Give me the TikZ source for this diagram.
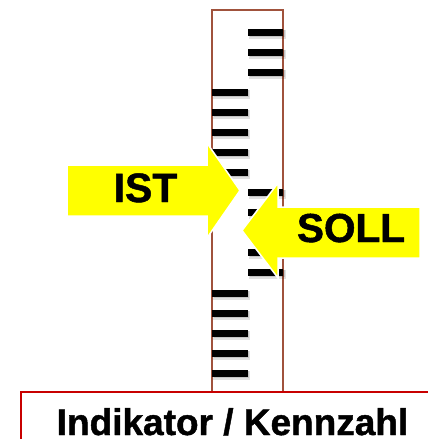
\documentclass[tikz,border=0pt]{standalone}
\usepackage{fontspec}
\setmainfont{Liberation Sans}[BoldFont={Liberation Sans Bold},BoldFeatures={FakeBold=1.2}]
\begin{document}
\begin{tikzpicture}[x=1pt,y=-1pt,
  rulerline/.style={draw={rgb,255:red,160;green,82;blue,60},line width=2pt},
  framebox/.style={draw={rgb,255:red,200;green,0;blue,0},line width=2pt},
  tickmark/.style={fill=black},
  tickshadow/.style={fill=black,opacity=0.12},
  bigarrow/.style={fill={rgb,255:red,255;green,255;blue,0},draw=white,line width=1.5pt,line join=miter},
  label/.style={inner sep=0pt,anchor=base}]
\useasboundingbox (0,0) rectangle (428,439);
\begin{scope}
\clip (0,0) rectangle (428,439);

% scale body
\path[rulerline,fill=white] (211.5,10) rectangle (283,395);

% tick marks: right column, left column, right column, left column
\foreach \y in {32,52,72,192,212,232,252,272}{
  \fill[tickshadow] (249,\y-2.5) rectangle (286,\y+6.5);
  \fill[tickshadow] (249.5,\y-2) rectangle (285,\y+5);
  \fill[tickmark] (248,\y-3.5) rectangle (283,\y+3.5);
}
\foreach \y in {92,112,132,152,172,293,313,333,353,373}{
  \fill[tickshadow] (213,\y-2.5) rectangle (250,\y+6.5);
  \fill[tickshadow] (213.5,\y-2) rectangle (249,\y+5);
  \fill[tickmark] (212,\y-3.5) rectangle (248,\y+3.5);
}

% label frame
\path[framebox,fill=white] (21,392) rectangle (450,460);

% actual-value arrow
\path[bigarrow] (67,165) -- (207,165) -- (207,143) -- (240,190.5)
  -- (207,238) -- (207,216) -- (67,216) -- cycle;
% target-value arrow
\path[bigarrow] (420,207) -- (278,207) -- (278,183) -- (242,230.5)
  -- (278,278) -- (278,258) -- (420,258) -- cycle;
\end{scope}

\node[label,font=\bfseries\fontsize{41}{44}\selectfont] (ist) at (145.5,202) {IST};
\node[label,font=\bfseries\fontsize{40.5}{44}\selectfont] (soll) at (351,242) {SOLL};
\node[label,font=\bfseries\fontsize{37}{40}\selectfont] (kennzahl) at (232.5,435) {Indikator / Kennzahl};
\end{tikzpicture}
\end{document}
